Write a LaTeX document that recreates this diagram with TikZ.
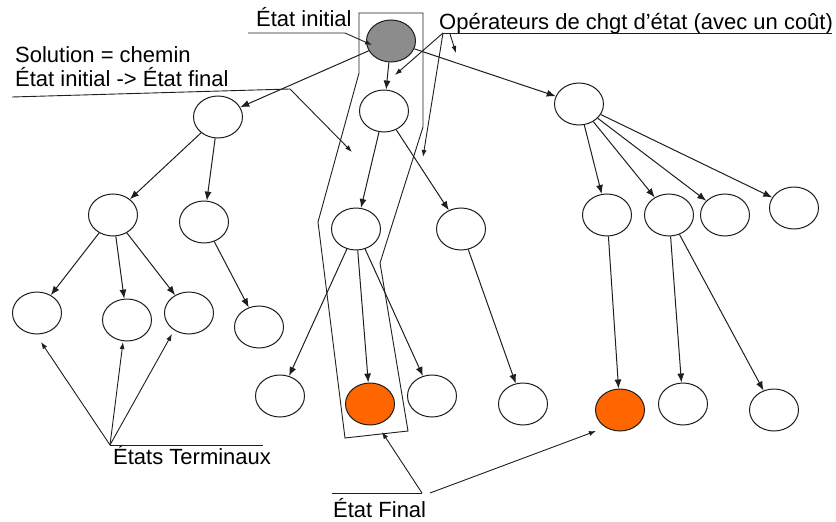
\documentclass[tikz,border=0pt]{standalone}
\usepackage{fontspec}
\setmainfont{Liberation Sans}
\usetikzlibrary{shapes.geometric,arrows.meta}
\definecolor{orangeF}{RGB}{255,102,0}
\definecolor{grayF}{RGB}{140,140,140}
\definecolor{lineC}{RGB}{30,30,30}
\begin{document}
\begin{tikzpicture}[x=1pt,y=-1pt,
  st/.style={ellipse,draw=lineC,line width=1pt,fill=white,minimum width=49pt,minimum height=42pt,inner sep=0pt},
  ini/.style={st,fill=grayF},
  fin/.style={st,fill=orangeF},
  edge/.style={draw=lineC,line width=1pt,-{Latex[length=9pt,width=7pt]}},
  lab/.style={font=\fontsize{22}{24}\selectfont,inner sep=0pt,anchor=base west,text=black},
  ptr/.style={draw=lineC,line width=0.9pt,-{Latex[length=7pt,width=5pt]}},
  uline/.style={draw=lineC,line width=0.9pt},
  pathbox/.style={draw=lineC,line width=0.9pt}
  ]
\useasboundingbox (0,0) rectangle (836,522);

% solution path outline
\draw[pathbox] (359,13) -- (423,13) -- (423,127) -- (380,263) -- (408,431) -- (345,438) -- (318,222) -- (359,73) -- cycle;

% nodes
\node[ini] (root) at (391,41) {};
\node[st] (A) at (218,117) {};
\node[st] (B) at (384,111) {};
\node[st] (C) at (579,104) {};
\node[st] (D) at (113,215) {};
\node[st] (E) at (204,222) {};
\node[st] (F) at (356,229) {};
\node[st] (G) at (461,229) {};
\node[st] (H) at (607,215) {};
\node[st] (I) at (669,215) {};
\node[st] (J) at (725,215) {};
\node[st] (K) at (794,208) {};
\node[st] (L1) at (37,313) {};
\node[st] (L2) at (127,320) {};
\node[st] (L3) at (189,313) {};
\node[st] (L4) at (259,327) {};
\node[st] (M1) at (280,396) {};
\node[fin] (M2) at (370,404) {};
\node[st] (M3) at (432,396) {};
\node[st] (M4) at (523,404) {};
\node[fin] (M5) at (620,410) {};
\node[st] (M6) at (683,404) {};
\node[st] (M7) at (774,410) {};

% tree edges
\draw[edge] (root) -- (A);
\draw[edge] (root) -- (B);
\draw[edge] (root) -- (C);
\draw[edge] (A) -- (D);
\draw[edge] (A) -- (E);
\draw[edge] (B) -- (F);
\draw[edge] (B) -- (G);
\draw[edge] (C) -- (H);
\draw[edge] (C) -- (I);
\draw[edge] (C) -- (J);
\draw[edge] (C) -- (K);
\draw[edge] (D) -- (L1);
\draw[edge] (D) -- (L2);
\draw[edge] (D) -- (L3);
\draw[edge] (E) -- (L4);
\draw[edge] (F) -- (M1);
\draw[edge] (F) -- (M2);
\draw[edge] (F) -- (M3);
\draw[edge] (G) -- (M4);
\draw[edge] (H) -- (M5);
\draw[edge] (I) -- (M6);
\draw[edge] (I) -- (M7);

% labels
\node[lab] (tInit) at (256,27) {État initial};
\node[lab] (tOps) at (439,30) {Opérateurs de chgt d’état (avec un coût)};
\node[lab] (tSol1) at (15,62) {Solution = chemin};
\node[lab] (tSol2) at (15,86) {État initial -> État final};
\node[lab] (tTerm) at (113,464) {États Terminaux};
\node[lab] (tFin) at (333,517) {État Final};

% label pointer coordinates
\coordinate (ei0) at (248,33);
\coordinate (ei1) at (345,33);
\coordinate (ei2) at (372,45);
\coordinate (so0) at (12,97);
\coordinate (so1) at (290,89);
\coordinate (so2) at (352,152);
\coordinate (op0) at (443,33);
\coordinate (op1) at (832,33);
\coordinate (op2) at (395,75);
\coordinate (op3) at (423,157);
\coordinate (op4) at (450,34);
\coordinate (op5) at (456,53);
\coordinate (te0) at (110,445);
\coordinate (te1) at (263,445);
\coordinate (te2) at (41,342);
\coordinate (te3) at (123,342);
\coordinate (te4) at (172,334);
\coordinate (fi0) at (332,493);
\coordinate (fi1) at (422,493);
\coordinate (fi2) at (382,432);
\coordinate (fi3) at (430,493);
\coordinate (fi4) at (596,431);

\draw[ptr] (ei0) -- (ei1) -- (ei2);
\draw[ptr] (so0) -- (so1) -- (so2);
\draw[uline] (op0) -- (op1);
\draw[ptr] (op0) -- (op2);
\draw[ptr] (op0) -- (op3);
\draw[ptr] (op4) -- (op5);
\draw[uline] (te0) -- (te1);
\draw[ptr] (te0) -- (te2);
\draw[ptr] (te0) -- (te3);
\draw[ptr] (te0) -- (te4);
\draw[uline] (fi0) -- (fi1);
\draw[ptr] (fi1) -- (fi2);
\draw[ptr] (fi3) -- (fi4);
\end{tikzpicture}
\end{document}
